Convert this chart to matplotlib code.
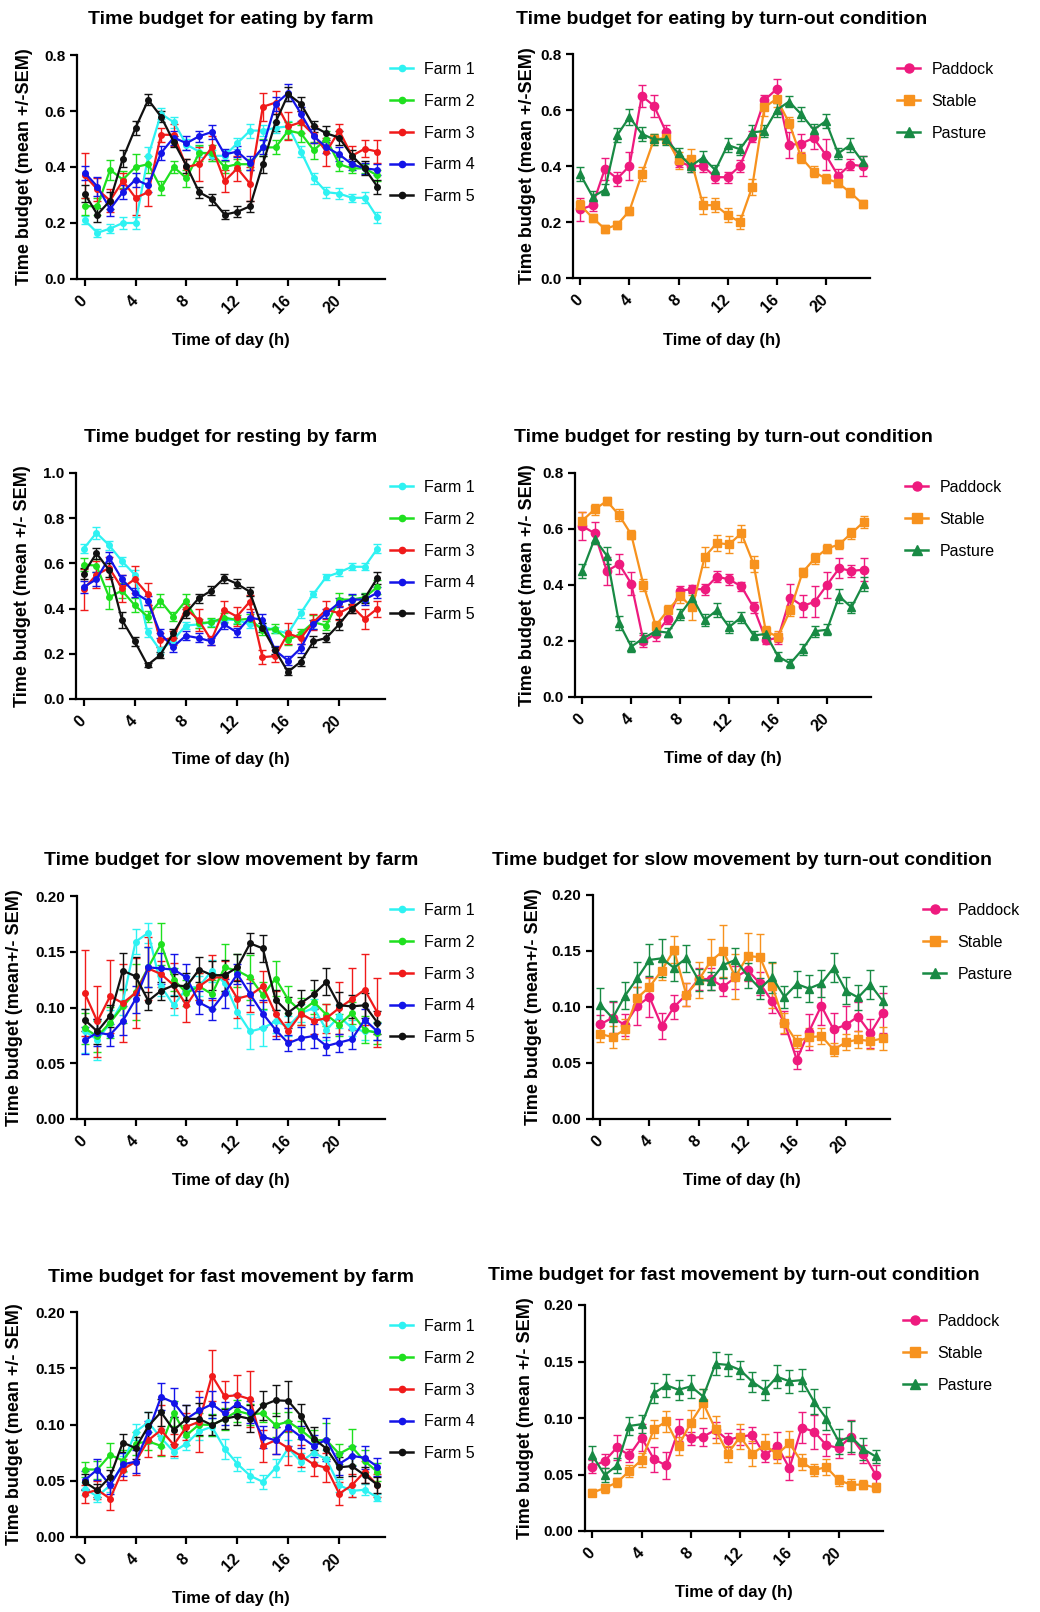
import numpy as np
import matplotlib.pyplot as plt
from matplotlib.lines import Line2D

plt.rcParams['font.family'] = ['Liberation Sans', 'DejaVu Sans']

hours = list(range(24))
xticks = [0, 4, 8, 12, 16, 20]
farm_labels = ["Farm 1", "Farm 2", "Farm 3", "Farm 4", "Farm 5"]
turnout_labels = ["Paddock", "Stable", "Pasture"]

# ---- eating by farm ----
eat_f1 = [0.21, 0.165, 0.18, 0.20, 0.20, 0.44, 0.59, 0.56, 0.48, 0.455, 0.44, 0.44,
          0.485, 0.53, 0.53, 0.54, 0.545, 0.455, 0.36, 0.31, 0.305, 0.29, 0.29, 0.22]
eat_f2 = [0.26, 0.26, 0.39, 0.355, 0.40, 0.41, 0.325, 0.40, 0.36, 0.45, 0.45, 0.40,
          0.41, 0.41, 0.47, 0.47, 0.53, 0.52, 0.46, 0.50, 0.41, 0.395, 0.395, 0.37]
eat_f3 = [0.37, 0.32, 0.28, 0.35, 0.29, 0.31, 0.515, 0.515, 0.40, 0.41, 0.47, 0.35,
          0.395, 0.34, 0.615, 0.63, 0.545, 0.56, 0.515, 0.455, 0.53, 0.44, 0.465, 0.455]
eat_f4 = [0.38, 0.33, 0.25, 0.31, 0.355, 0.335, 0.45, 0.505, 0.485, 0.51, 0.525, 0.445,
          0.455, 0.415, 0.47, 0.625, 0.665, 0.59, 0.51, 0.47, 0.445, 0.41, 0.395, 0.39]
eat_f5 = [0.305, 0.23, 0.28, 0.43, 0.54, 0.64, 0.58, 0.49, 0.405, 0.31, 0.285, 0.23,
          0.24, 0.26, 0.41, 0.56, 0.66, 0.625, 0.545, 0.52, 0.505, 0.44, 0.395, 0.33]
eat_f1_sem = [0.015, 0.015, 0.015, 0.02, 0.02, 0.03, 0.02, 0.02, 0.02, 0.02, 0.02, 0.02,
              0.02, 0.025, 0.02, 0.02, 0.02, 0.02, 0.02, 0.02, 0.02, 0.015, 0.02, 0.02]
eat_f2_sem = [0.03, 0.03, 0.035, 0.03, 0.045, 0.03, 0.025, 0.02, 0.03, 0.03, 0.03, 0.02,
              0.02, 0.02, 0.03, 0.025, 0.03, 0.03, 0.03, 0.03, 0.025, 0.015, 0.015, 0.02]
eat_f3_sem = [0.08, 0.04, 0.04, 0.03, 0.06, 0.05, 0.025, 0.04, 0.03, 0.06, 0.04, 0.04,
              0.045, 0.06, 0.05, 0.04, 0.05, 0.04, 0.03, 0.05, 0.025, 0.035, 0.03, 0.04]
eat_f4_sem = [0.025, 0.035, 0.025, 0.025, 0.025, 0.025, 0.025, 0.025, 0.025, 0.02, 0.025, 0.02,
              0.02, 0.025, 0.025, 0.025, 0.03, 0.025, 0.025, 0.02, 0.025, 0.02, 0.02, 0.02]
eat_f5_sem = [0.03, 0.025, 0.03, 0.03, 0.025, 0.02, 0.02, 0.02, 0.025, 0.02, 0.02, 0.015,
              0.02, 0.02, 0.03, 0.03, 0.025, 0.025, 0.02, 0.025, 0.025, 0.02, 0.025, 0.025]

# ---- eating by turn-out ----
eat_paddock = [0.245, 0.26, 0.39, 0.355, 0.40, 0.65, 0.615, 0.52, 0.415, 0.40, 0.40, 0.36,
               0.36, 0.40, 0.505, 0.635, 0.675, 0.475, 0.48, 0.50, 0.44, 0.365, 0.405, 0.40]
eat_stable = [0.26, 0.215, 0.175, 0.19, 0.24, 0.37, 0.495, 0.50, 0.42, 0.425, 0.26, 0.26,
              0.225, 0.20, 0.325, 0.61, 0.64, 0.555, 0.43, 0.38, 0.355, 0.34, 0.305, 0.265]
eat_pasture = [0.37, 0.29, 0.315, 0.51, 0.575, 0.515, 0.495, 0.495, 0.445, 0.40, 0.43, 0.385,
               0.475, 0.46, 0.52, 0.525, 0.60, 0.63, 0.585, 0.53, 0.56, 0.445, 0.475, 0.415]
eat_paddock_sem = [0.04, 0.02, 0.04, 0.025, 0.05, 0.04, 0.04, 0.025, 0.02, 0.02, 0.02, 0.02,
                   0.02, 0.02, 0.02, 0.02, 0.035, 0.045, 0.035, 0.04, 0.055, 0.025, 0.02, 0.035]
eat_stable_sem = [0.02, 0.015, 0.015, 0.015, 0.015, 0.025, 0.02, 0.02, 0.03, 0.035, 0.03, 0.025,
                  0.025, 0.025, 0.03, 0.03, 0.03, 0.02, 0.02, 0.02, 0.015, 0.015, 0.015, 0.015]
eat_pasture_sem = [0.025, 0.02, 0.02, 0.025, 0.03, 0.025, 0.02, 0.02, 0.02, 0.02, 0.025, 0.02,
                   0.025, 0.02, 0.025, 0.02, 0.025, 0.02, 0.025, 0.02, 0.025, 0.02, 0.025, 0.02]

# ---- resting by farm ----
rest_f1 = [0.665, 0.735, 0.68, 0.61, 0.55, 0.295, 0.215, 0.26, 0.325, 0.33, 0.34, 0.35,
           0.35, 0.33, 0.32, 0.305, 0.29, 0.38, 0.465, 0.54, 0.56, 0.585, 0.585, 0.665]
rest_f2 = [0.595, 0.59, 0.45, 0.48, 0.415, 0.365, 0.435, 0.365, 0.435, 0.335, 0.34, 0.36,
           0.35, 0.355, 0.305, 0.31, 0.26, 0.29, 0.34, 0.325, 0.44, 0.44, 0.45, 0.495]
rest_f3 = [0.485, 0.55, 0.58, 0.49, 0.53, 0.465, 0.26, 0.27, 0.40, 0.35, 0.26, 0.395,
           0.365, 0.43, 0.185, 0.19, 0.29, 0.27, 0.34, 0.395, 0.38, 0.41, 0.355, 0.40]
rest_f4 = [0.495, 0.53, 0.625, 0.53, 0.47, 0.435, 0.29, 0.23, 0.28, 0.27, 0.255, 0.33,
           0.295, 0.36, 0.35, 0.215, 0.17, 0.225, 0.33, 0.38, 0.425, 0.44, 0.44, 0.47]
rest_f5 = [0.555, 0.645, 0.57, 0.35, 0.255, 0.15, 0.195, 0.29, 0.38, 0.445, 0.48, 0.535,
           0.51, 0.475, 0.315, 0.215, 0.12, 0.165, 0.255, 0.27, 0.33, 0.40, 0.445, 0.535]
rest_f1_sem = [0.02, 0.025, 0.02, 0.02, 0.02, 0.02, 0.015, 0.015, 0.015, 0.015, 0.015, 0.015,
               0.015, 0.015, 0.015, 0.015, 0.015, 0.02, 0.015, 0.015, 0.015, 0.015, 0.015, 0.02]
rest_f2_sem = [0.03, 0.03, 0.05, 0.035, 0.03, 0.025, 0.03, 0.02, 0.03, 0.02, 0.02, 0.02,
               0.02, 0.02, 0.02, 0.02, 0.02, 0.02, 0.03, 0.02, 0.03, 0.02, 0.02, 0.03]
rest_f3_sem = [0.09, 0.06, 0.05, 0.06, 0.06, 0.05, 0.03, 0.03, 0.02, 0.05, 0.02, 0.04,
               0.04, 0.03, 0.03, 0.025, 0.045, 0.025, 0.035, 0.04, 0.03, 0.03, 0.045, 0.035]
rest_f4_sem = [0.025, 0.03, 0.025, 0.02, 0.02, 0.02, 0.02, 0.02, 0.02, 0.02, 0.015, 0.02,
               0.02, 0.025, 0.025, 0.02, 0.02, 0.02, 0.02, 0.02, 0.02, 0.025, 0.025, 0.025]
rest_f5_sem = [0.025, 0.025, 0.03, 0.035, 0.02, 0.01, 0.015, 0.02, 0.02, 0.02, 0.02, 0.02,
               0.02, 0.02, 0.02, 0.015, 0.015, 0.02, 0.025, 0.02, 0.025, 0.02, 0.02, 0.025]

# ---- resting by turn-out ----
rest_paddock = [0.61, 0.585, 0.45, 0.475, 0.405, 0.20, 0.225, 0.28, 0.38, 0.385, 0.385, 0.43,
                0.42, 0.395, 0.32, 0.205, 0.21, 0.355, 0.325, 0.34, 0.40, 0.46, 0.45, 0.455]
rest_stable = [0.63, 0.67, 0.70, 0.65, 0.58, 0.40, 0.255, 0.31, 0.36, 0.32, 0.50, 0.55,
               0.545, 0.585, 0.475, 0.235, 0.215, 0.31, 0.445, 0.495, 0.53, 0.545, 0.585, 0.625]
rest_pasture = [0.45, 0.565, 0.505, 0.265, 0.18, 0.21, 0.235, 0.23, 0.295, 0.355, 0.275, 0.31,
                0.25, 0.285, 0.22, 0.225, 0.145, 0.12, 0.17, 0.235, 0.24, 0.36, 0.32, 0.405]
rest_paddock_sem = [0.05, 0.04, 0.05, 0.035, 0.04, 0.02, 0.025, 0.02, 0.015, 0.015, 0.02, 0.02,
                    0.02, 0.015, 0.02, 0.015, 0.02, 0.05, 0.04, 0.055, 0.045, 0.035, 0.02, 0.04]
rest_stable_sem = [0.03, 0.02, 0.015, 0.02, 0.015, 0.02, 0.015, 0.02, 0.025, 0.045, 0.035, 0.03,
                   0.03, 0.03, 0.03, 0.02, 0.02, 0.02, 0.015, 0.02, 0.015, 0.015, 0.02, 0.02]
rest_pasture_sem = [0.025, 0.02, 0.03, 0.025, 0.02, 0.02, 0.015, 0.015, 0.02, 0.02, 0.02, 0.025,
                    0.02, 0.02, 0.015, 0.015, 0.015, 0.015, 0.02, 0.02, 0.02, 0.025, 0.02, 0.025]

# ---- slow movement by farm ----
slow_f1 = [0.079, 0.071, 0.086, 0.105, 0.159, 0.167, 0.119, 0.102, 0.117, 0.119, 0.133, 0.122,
           0.096, 0.0785, 0.0815, 0.0875, 0.083, 0.095, 0.0995, 0.080, 0.092, 0.0815, 0.0785, 0.0785]
slow_f2 = [0.0815, 0.074, 0.0865, 0.101, 0.114, 0.136, 0.157, 0.125, 0.113, 0.119, 0.112, 0.136,
           0.133, 0.127, 0.111, 0.126, 0.107, 0.0965, 0.105, 0.0935, 0.0845, 0.095, 0.080, 0.077]
slow_f3 = [0.113, 0.0875, 0.110, 0.104, 0.113, 0.135, 0.130, 0.120, 0.102, 0.119, 0.127, 0.127,
           0.108, 0.111, 0.119, 0.0945, 0.079, 0.0945, 0.088, 0.0905, 0.0995, 0.1075, 0.116, 0.0955]
slow_f4 = [0.0705, 0.0775, 0.0755, 0.088, 0.1075, 0.136, 0.135, 0.134, 0.127, 0.1045, 0.0985, 0.113,
           0.130, 0.112, 0.0945, 0.080, 0.068, 0.0725, 0.0745, 0.0655, 0.0685, 0.0715, 0.089, 0.0785]
slow_f5 = [0.089, 0.0785, 0.0925, 0.133, 0.128, 0.106, 0.115, 0.120, 0.119, 0.134, 0.129, 0.129,
           0.136, 0.1575, 0.153, 0.107, 0.0955, 0.104, 0.112, 0.123, 0.102, 0.101, 0.102, 0.0865]
slow_f1_sem = [0.02, 0.018, 0.012, 0.012, 0.011, 0.009, 0.009, 0.009, 0.011, 0.009, 0.01, 0.009,
               0.014, 0.016, 0.016, 0.01, 0.009, 0.008, 0.008, 0.009, 0.01, 0.007, 0.008, 0.008]
slow_f2_sem = [0.014, 0.014, 0.014, 0.015, 0.025, 0.018, 0.019, 0.01, 0.012, 0.012, 0.013, 0.021,
               0.015, 0.02, 0.012, 0.016, 0.012, 0.012, 0.011, 0.01, 0.01, 0.01, 0.012, 0.01]
slow_f3_sem = [0.039, 0.032, 0.033, 0.035, 0.031, 0.028, 0.012, 0.02, 0.015, 0.012, 0.02, 0.015,
               0.017, 0.015, 0.014, 0.02, 0.008, 0.01, 0.012, 0.013, 0.023, 0.028, 0.032, 0.031]
slow_f4_sem = [0.012, 0.012, 0.01, 0.013, 0.012, 0.018, 0.014, 0.014, 0.012, 0.01, 0.01, 0.013,
               0.009, 0.01, 0.012, 0.008, 0.007, 0.01, 0.011, 0.008, 0.008, 0.009, 0.01, 0.008]
slow_f5_sem = [0.01, 0.011, 0.01, 0.016, 0.017, 0.008, 0.008, 0.01, 0.012, 0.011, 0.013, 0.014,
               0.012, 0.009, 0.012, 0.009, 0.014, 0.012, 0.013, 0.012, 0.012, 0.01, 0.011, 0.01]

# ---- slow movement by turn-out ----
slow_paddock = [0.0845, 0.0905, 0.084, 0.101, 0.109, 0.083, 0.100, 0.111, 0.125, 0.125, 0.118, 0.1265,
                0.133, 0.121, 0.105, 0.086, 0.053, 0.078, 0.101, 0.080, 0.084, 0.0915, 0.0765, 0.0945]
slow_stable = [0.076, 0.073, 0.080, 0.108, 0.118, 0.1325, 0.151, 0.111, 0.124, 0.141, 0.150, 0.127,
               0.1455, 0.1445, 0.119, 0.0855, 0.069, 0.073, 0.074, 0.062, 0.0685, 0.071, 0.0695, 0.072]
slow_pasture = [0.102, 0.090, 0.110, 0.1255, 0.142, 0.1435, 0.135, 0.1435, 0.124, 0.1235, 0.1375, 0.142,
                0.128, 0.1165, 0.1265, 0.109, 0.1205, 0.1165, 0.121, 0.135, 0.1145, 0.1085, 0.120, 0.1055]
slow_paddock_sem = [0.008, 0.014, 0.01, 0.017, 0.018, 0.012, 0.011, 0.01, 0.01, 0.01, 0.008, 0.01,
                    0.01, 0.01, 0.01, 0.01, 0.008, 0.016, 0.017, 0.015, 0.017, 0.013, 0.013, 0.018]
slow_stable_sem = [0.007, 0.01, 0.009, 0.01, 0.008, 0.008, 0.012, 0.01, 0.016, 0.02, 0.023, 0.02,
                   0.021, 0.021, 0.02, 0.009, 0.006, 0.008, 0.007, 0.006, 0.007, 0.008, 0.007, 0.01]
slow_pasture_sem = [0.015, 0.015, 0.012, 0.015, 0.014, 0.017, 0.012, 0.012, 0.01, 0.008, 0.012, 0.011,
                    0.011, 0.009, 0.014, 0.01, 0.012, 0.012, 0.012, 0.013, 0.012, 0.011, 0.013, 0.013]

# ---- fast movement by farm ----
fast_f1 = [0.043, 0.036, 0.046, 0.065, 0.0935, 0.102, 0.088, 0.076, 0.083, 0.094, 0.098, 0.0785,
           0.065, 0.0545, 0.049, 0.0615, 0.079, 0.067, 0.075, 0.069, 0.046, 0.041, 0.042, 0.035]
fast_f2 = [0.060, 0.060, 0.073, 0.068, 0.083, 0.085, 0.081, 0.110, 0.0905, 0.100, 0.0995, 0.105,
           0.112, 0.109, 0.110, 0.0995, 0.1025, 0.095, 0.086, 0.086, 0.074, 0.080, 0.0675, 0.058]
fast_f3 = [0.0385, 0.042, 0.034, 0.060, 0.067, 0.086, 0.095, 0.082, 0.098, 0.1025, 0.1435, 0.125,
           0.126, 0.1225, 0.081, 0.086, 0.079, 0.072, 0.0645, 0.0615, 0.0385, 0.046, 0.058, 0.046]
fast_f4 = [0.0505, 0.060, 0.046, 0.0645, 0.067, 0.0935, 0.1245, 0.1195, 0.105, 0.1125, 0.118, 0.110,
           0.1185, 0.111, 0.089, 0.086, 0.0975, 0.089, 0.081, 0.0865, 0.065, 0.072, 0.0705, 0.0625]
fast_f5 = [0.049, 0.0415, 0.0535, 0.084, 0.079, 0.0985, 0.111, 0.095, 0.105, 0.105, 0.0995, 0.105,
           0.1075, 0.105, 0.117, 0.1215, 0.121, 0.1075, 0.0875, 0.0785, 0.062, 0.063, 0.055, 0.0465]
fast_f1_sem = [0.006, 0.005, 0.006, 0.007, 0.007, 0.009, 0.008, 0.006, 0.006, 0.008, 0.008, 0.009,
               0.006, 0.006, 0.006, 0.008, 0.007, 0.008, 0.008, 0.008, 0.006, 0.005, 0.005, 0.003]
fast_f2_sem = [0.007, 0.008, 0.011, 0.009, 0.01, 0.008, 0.009, 0.011, 0.009, 0.01, 0.01, 0.01,
               0.01, 0.009, 0.008, 0.011, 0.009, 0.008, 0.009, 0.015, 0.009, 0.016, 0.01, 0.008]
fast_f3_sem = [0.008, 0.008, 0.01, 0.009, 0.012, 0.015, 0.022, 0.01, 0.012, 0.027, 0.023, 0.014,
               0.018, 0.025, 0.014, 0.012, 0.015, 0.01, 0.01, 0.013, 0.01, 0.01, 0.01, 0.01]
fast_f4_sem = [0.008, 0.009, 0.008, 0.01, 0.01, 0.01, 0.012, 0.013, 0.012, 0.012, 0.012, 0.01,
               0.009, 0.01, 0.01, 0.012, 0.017, 0.01, 0.01, 0.019, 0.01, 0.009, 0.01, 0.008]
fast_f5_sem = [0.007, 0.006, 0.006, 0.008, 0.01, 0.013, 0.012, 0.012, 0.012, 0.014, 0.009, 0.009,
               0.008, 0.012, 0.013, 0.014, 0.018, 0.011, 0.01, 0.009, 0.009, 0.009, 0.007, 0.007]

# ---- fast movement by turn-out ----
fast_paddock = [0.057, 0.062, 0.074, 0.067, 0.0825, 0.0635, 0.058, 0.0895, 0.082, 0.0835, 0.0895, 0.0805,
                0.0835, 0.085, 0.067, 0.0755, 0.0555, 0.0915, 0.088, 0.076, 0.0735, 0.0835, 0.0685, 0.050]
fast_stable = [0.034, 0.038, 0.043, 0.053, 0.063, 0.090, 0.097, 0.0755, 0.096, 0.113, 0.090, 0.0685,
               0.0835, 0.0685, 0.076, 0.068, 0.0775, 0.061, 0.054, 0.0565, 0.045, 0.041, 0.041, 0.0385]
fast_pasture = [0.067, 0.0495, 0.058, 0.093, 0.0945, 0.122, 0.129, 0.125, 0.128, 0.119, 0.148, 0.147,
                0.1425, 0.132, 0.1245, 0.1365, 0.1325, 0.1335, 0.1145, 0.0995, 0.0795, 0.0835, 0.0725, 0.066]
fast_paddock_sem = [0.006, 0.006, 0.011, 0.006, 0.012, 0.011, 0.012, 0.01, 0.006, 0.008, 0.007, 0.006,
                    0.007, 0.007, 0.006, 0.012, 0.01, 0.014, 0.015, 0.01, 0.009, 0.015, 0.008, 0.008]
fast_stable_sem = [0.003, 0.004, 0.004, 0.005, 0.006, 0.008, 0.009, 0.008, 0.011, 0.013, 0.012, 0.007,
                   0.011, 0.011, 0.01, 0.008, 0.011, 0.007, 0.005, 0.007, 0.005, 0.005, 0.004, 0.004]
fast_pasture_sem = [0.008, 0.006, 0.007, 0.008, 0.008, 0.009, 0.01, 0.009, 0.01, 0.007, 0.01, 0.01,
                    0.008, 0.009, 0.009, 0.01, 0.01, 0.01, 0.011, 0.01, 0.011, 0.014, 0.01, 0.006]

farm_colors = ["#2EF2F2", "#1FE01F", "#F01A1A", "#1414E8", "#111111"]
turnout_colors = ["#EE1A7E", "#F7921E", "#188A44"]
turnout_markers = ["o", "s", "^"]

W, H = 1040, 1612
fig = plt.figure(figsize=(W / 100, H / 100), dpi=100)


def add_ax(l, t, r, b):
    return fig.add_axes([l / W, 1 - b / H, (r - l) / W, (b - t) / H])


def draw_panel(box, title, title_y, ylabel, ylabel_x, xlabel_y, ymax, ystep, yfmt,
               series, sems, labels, colors, markers, msize, leg_x, leg_y):
    l, t, r, b = box
    ax = add_ax(l, t, r, b)
    handles = []
    for vals, err, lab, col, mk in zip(series, sems, labels, colors, markers):
        ax.errorbar(hours, vals, yerr=err, color=col, marker=mk, markersize=msize,
                    lw=1.6, elinewidth=1.0, capsize=3, capthick=1.0,
                    markeredgecolor=col)
        handles.append(Line2D([], [], color=col, marker=mk, markersize=msize + 0.5,
                              lw=1.8, markeredgecolor=col, label=lab))
    ax.set_xlim(-0.6, 23.6)
    ax.set_ylim(0, ymax)
    ax.set_xticks(xticks)
    ax.set_yticks(np.arange(0, ymax + ystep / 2, ystep))
    ax.yaxis.set_major_formatter(plt.FormatStrFormatter(yfmt))
    for s in ["top", "right"]:
        ax.spines[s].set_visible(False)
    for s in ["left", "bottom"]:
        ax.spines[s].set_linewidth(1.6)
    ax.tick_params(axis="both", width=1.6, length=5)
    ax.tick_params(axis="y", labelsize=11)
    ax.tick_params(axis="x", labelsize=11.5, pad=9)
    for lbl in ax.get_yticklabels():
        lbl.set_fontweight("bold")
    for lbl in ax.get_xticklabels():
        lbl.set_fontweight("bold")
        lbl.set_rotation(45)
        lbl.set_ha("right")
        lbl.set_va("center")
        lbl.set_rotation_mode("anchor")
    ax.set_ylabel(ylabel, fontsize=13, fontweight="bold")
    ax.yaxis.set_label_coords((ylabel_x - l) / (r - l), 0.5)
    ax.yaxis.label.set_va("center")
    ax.set_xlabel("Time of day (h)", fontsize=12, fontweight="bold")
    ax.xaxis.set_label_coords(0.5, -(xlabel_y - b) / (b - t))
    ax.xaxis.label.set_va("center")
    fig.text((l + r) / 2 / W, 1 - title_y / H, title, fontsize=14, fontweight="bold",
             ha="center", va="center")
    ax.legend(handles=handles, loc="upper left", bbox_to_anchor=(leg_x / W, 1 - leg_y / H),
              bbox_transform=fig.transFigure, frameon=False, fontsize=11.5,
              handlelength=1.45, handletextpad=0.7, labelspacing=1.05,
              borderpad=0, borderaxespad=0)
    return ax


farm_markers = ["o"] * 5

draw_panel((77, 55, 385, 279), "Time budget for eating by farm", 20,
           "Time budget (mean +/-SEM)", 25, 341, 0.8, 0.2, "%.1f",
           [eat_f1, eat_f2, eat_f3, eat_f4, eat_f5],
           [eat_f1_sem, eat_f2_sem, eat_f3_sem, eat_f4_sem, eat_f5_sem],
           farm_labels, farm_colors, farm_markers, 4, 390, 62)

draw_panel((573, 54, 870, 278), "Time budget for eating by turn-out condition", 20,
           "Time budget (mean +/-SEM)", 527, 340, 0.8, 0.2, "%.1f",
           [eat_paddock, eat_stable, eat_pasture],
           [eat_paddock_sem, eat_stable_sem, eat_pasture_sem],
           turnout_labels, turnout_colors, turnout_markers, 6, 897, 62)

draw_panel((76, 473, 385, 699), "Time budget for resting by farm", 438,
           "Time budget (mean +/- SEM)", 23, 760, 1.0, 0.2, "%.1f",
           [rest_f1, rest_f2, rest_f3, rest_f4, rest_f5],
           [rest_f1_sem, rest_f2_sem, rest_f3_sem, rest_f4_sem, rest_f5_sem],
           farm_labels, farm_colors, farm_markers, 4, 390, 480)

draw_panel((575, 473, 871, 697), "Time budget for resting by turn-out condition", 438,
           "Time budget (mean +/- SEM)", 527, 758, 0.8, 0.2, "%.1f",
           [rest_paddock, rest_stable, rest_pasture],
           [rest_paddock_sem, rest_stable_sem, rest_pasture_sem],
           turnout_labels, turnout_colors, turnout_markers, 6, 905, 480)

draw_panel((77, 896, 385, 1119), "Time budget for slow movement by farm", 860,
           "Time budget (mean+/- SEM)", 15, 1181, 0.2, 0.05, "%.2f",
           [slow_f1, slow_f2, slow_f3, slow_f4, slow_f5],
           [slow_f1_sem, slow_f2_sem, slow_f3_sem, slow_f4_sem, slow_f5_sem],
           farm_labels, farm_colors, farm_markers, 4, 390, 903)

draw_panel((593, 895, 890, 1119), "Time budget for slow movement by turn-out condition", 860,
           "Time budget (mean+/- SEM)", 533, 1180, 0.2, 0.05, "%.2f",
           [slow_paddock, slow_stable, slow_pasture],
           [slow_paddock_sem, slow_stable_sem, slow_pasture_sem],
           turnout_labels, turnout_colors, turnout_markers, 6, 923, 903)

draw_panel((77, 1312, 385, 1537), "Time budget for fast movement by farm", 1278,
           "Time budget (mean +/- SEM)", 15, 1598, 0.2, 0.05, "%.2f",
           [fast_f1, fast_f2, fast_f3, fast_f4, fast_f5],
           [fast_f1_sem, fast_f2_sem, fast_f3_sem, fast_f4_sem, fast_f5_sem],
           farm_labels, farm_colors, farm_markers, 4, 390, 1319)

draw_panel((585, 1305, 883, 1531), "Time budget for fast movement by turn-out condition", 1276,
           "Time budget (mean +/- SEM)", 525, 1592, 0.2, 0.05, "%.2f",
           [fast_paddock, fast_stable, fast_pasture],
           [fast_paddock_sem, fast_stable_sem, fast_pasture_sem],
           turnout_labels, turnout_colors, turnout_markers, 6, 903, 1314)

fig.savefig("out.png", dpi=100, facecolor="white")
